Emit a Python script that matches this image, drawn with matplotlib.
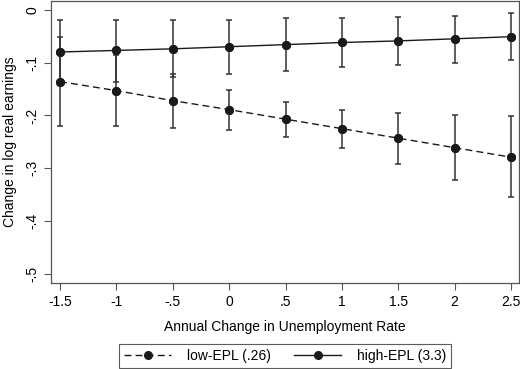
import numpy as np
import matplotlib.pyplot as plt

# unemployment change (x) and predicted change in log real earnings
unemp_change = [-1.5, -1, -0.5, 0, 0.5, 1, 1.5, 2, 2.5]

low_epl = [-0.136, -0.153, -0.172, -0.189, -0.207, -0.225, -0.243, -0.261, -0.279]
low_lo = [-0.220, -0.220, -0.223, -0.228, -0.240, -0.261, -0.291, -0.323, -0.355]
low_hi = [-0.052, -0.086, -0.121, -0.151, -0.175, -0.189, -0.196, -0.200, -0.201]

high_epl = [-0.080, -0.077, -0.074, -0.070, -0.066, -0.062, -0.059, -0.055, -0.051]
high_lo = [-0.142, -0.136, -0.128, -0.121, -0.115, -0.109, -0.104, -0.100, -0.096]
high_hi = [-0.019, -0.019, -0.019, -0.019, -0.016, -0.015, -0.013, -0.011, -0.006]

x_ticks = [-1.5, -1, -0.5, 0, 0.5, 1, 1.5, 2, 2.5]
x_ticklabels = ["-1.5", "-1", "-.5", "0", ".5", "1", "1.5", "2", "2.5"]
y_ticks = [0, -0.1, -0.2, -0.3, -0.4, -0.5]
y_ticklabels = ["0", "-.1", "-.2", "-.3", "-.4", "-.5"]

plt.rcParams["font.family"] = ["Liberation Sans", "DejaVu Sans"]
ink = "#1a1a1a"

fig = plt.figure(figsize=(5.2, 3.69), dpi=100)
ax = fig.add_axes([0.098, 0.233, 0.900, 0.765])

x = np.array(unemp_change)
lo = np.array(low_epl)
hi = np.array(high_epl)

ax.errorbar(x, lo, yerr=[lo - np.array(low_lo), np.array(low_hi) - lo],
            fmt="o", color=ink, ecolor="#333333", elinewidth=1.1, capsize=2.5,
            capthick=1.1, markersize=5.5, zorder=3)
ax.errorbar(x, hi, yerr=[hi - np.array(high_lo), np.array(high_hi) - hi],
            fmt="o", color=ink, ecolor="#333333", elinewidth=1.1, capsize=2.5,
            capthick=1.1, markersize=5.5, zorder=3)
l1, = ax.plot(x, lo, ls=(0, (5, 3)), color=ink, lw=1.0, marker="o", ms=5.5,
              label="low-EPL (.26)")
l2, = ax.plot(x, hi, ls="-", color=ink, lw=1.0, marker="o", ms=5.5,
              label="high-EPL (3.3)")

ax.set_xlim(-1.58, 2.57)
ax.set_ylim(-0.517, 0.017)
ax.set_xticks(x_ticks)
ax.set_xticklabels(x_ticklabels)
ax.set_yticks(y_ticks)
ax.set_yticklabels(y_ticklabels, rotation=90, va="center")
ax.tick_params(axis="both", labelsize=10, length=5, width=0.8, color="#555555",
               direction="out")
for s in ax.spines.values():
    s.set_color("#555555")
    s.set_linewidth(0.9)

ax.set_ylabel("Change in log real earnings", fontsize=10, labelpad=6)
fig.text(0.548, 0.114, "Annual Change in Unemployment Rate", ha="center",
         va="center", fontsize=10)

leg = fig.legend(handles=[l1, l2], loc="center", bbox_to_anchor=(0.548, 0.036),
                 ncol=2, fontsize=10, frameon=True, fancybox=False,
                 handlelength=3.4, handletextpad=1.1, columnspacing=1.7,
                 borderpad=0.35)
leg.get_frame().set_edgecolor("#333333")
leg.get_frame().set_linewidth(0.8)

fig.savefig("out.png", dpi=100)
